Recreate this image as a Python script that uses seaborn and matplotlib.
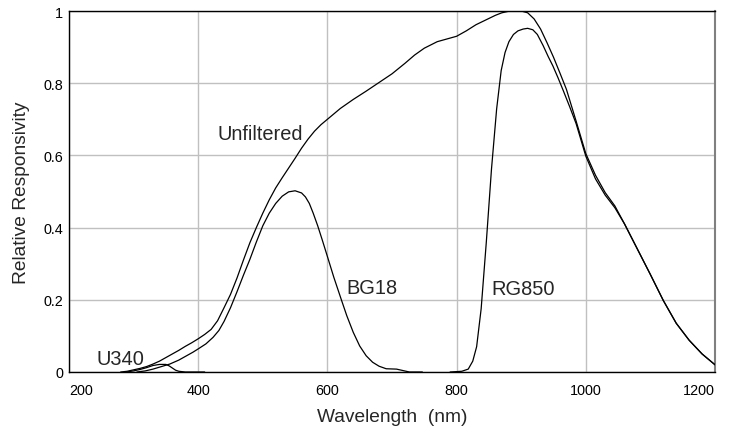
import pandas as pd
import seaborn as sns
import matplotlib.pyplot as plt

# relative responsivity curves
unf_wl = [280, 290, 300, 310, 320, 330, 340, 350, 360, 370, 380, 390, 400, 410, 420,
          430, 440, 450, 460, 470, 480, 490, 500, 510, 520, 530, 540, 550, 560, 570,
          580, 590, 600, 620, 640, 660, 680, 700, 720, 735, 750, 770, 790, 800, 815,
          830, 845, 860, 870, 880, 890, 900, 910, 920, 930, 940, 950, 960, 970, 985,
          1000, 1015, 1030, 1045, 1060, 1080, 1100, 1120, 1140, 1160, 1180, 1200]
unf_val = [0, 0.002, 0.006, 0.01, 0.015, 0.022, 0.03, 0.04, 0.05, 0.06, 0.071, 0.081,
           0.092, 0.104, 0.118, 0.142, 0.178, 0.215, 0.26, 0.31, 0.358, 0.40, 0.44,
           0.477, 0.51, 0.538, 0.565, 0.592, 0.62, 0.645, 0.667, 0.685, 0.70, 0.73,
           0.755, 0.778, 0.802, 0.826, 0.855, 0.878, 0.897, 0.915, 0.925, 0.93, 0.945,
           0.962, 0.975, 0.988, 0.995, 0.999, 1.0, 1.0, 0.995, 0.978, 0.95, 0.912,
           0.872, 0.828, 0.783, 0.695, 0.605, 0.545, 0.497, 0.46, 0.41, 0.34, 0.27,
           0.198, 0.135, 0.088, 0.05, 0.02]

bg18_wl = [305, 318, 330, 343, 356, 370, 382, 392, 400, 412, 423, 432, 440, 450, 460,
           470, 480, 490, 500, 510, 520, 530, 540, 550, 560, 566, 572, 578, 585, 592,
           600, 610, 622, 630, 640, 650, 660, 670, 680, 691, 707, 717, 727, 747]
bg18_val = [0, 0.003, 0.008, 0.015, 0.022, 0.033, 0.045, 0.055, 0.064, 0.078, 0.096,
            0.115, 0.14, 0.178, 0.222, 0.268, 0.312, 0.36, 0.405, 0.44, 0.467, 0.487,
            0.499, 0.502, 0.496, 0.485, 0.467, 0.44, 0.405, 0.366, 0.32, 0.262, 0.198,
            0.156, 0.11, 0.072, 0.045, 0.027, 0.016, 0.009, 0.008, 0.004, 0, 0]

rg850_wl = [790, 808, 818, 825, 831, 838, 846, 854, 862, 869, 875, 881, 888, 895, 903,
            910, 918, 925, 934, 942, 949, 957, 965, 975, 985, 1000, 1015, 1030, 1045,
            1060, 1080, 1100, 1120, 1140, 1160, 1180, 1200]
rg850_val = [0, 0.002, 0.008, 0.03, 0.07, 0.175, 0.36, 0.562, 0.729, 0.835, 0.885,
             0.915, 0.935, 0.945, 0.95, 0.952, 0.948, 0.935, 0.904, 0.873, 0.848, 0.815,
             0.78, 0.735, 0.688, 0.598, 0.535, 0.49, 0.455, 0.41, 0.34, 0.27, 0.198,
             0.135, 0.088, 0.05, 0.02]

u340_wl = [289, 300, 310, 320, 330, 340, 350, 355, 360, 365, 370, 380, 410]
u340_val = [0, 0.003, 0.007, 0.012, 0.018, 0.021, 0.021, 0.017, 0.011, 0.005, 0.002,
            0, 0]

x_ticks = [200, 400, 600, 800, 1000, 1200]
y_ticks = [0, 0.2, 0.4, 0.6, 0.8, 1.0]
y_tick_labels = ["0", "0.2", "0.4", "0.6", "0.8", "1"]

curves = {
    "Unfiltered": (unf_wl, unf_val),
    "BG18": (bg18_wl, bg18_val),
    "RG850": (rg850_wl, rg850_val),
    "U340": (u340_wl, u340_val),
}
df = pd.concat(
    [pd.DataFrame({"wavelength": w, "response": v, "filter": name})
     for name, (w, v) in curves.items()],
    ignore_index=True,
)

sns.set_style("white")
plt.rcParams["font.family"] = ["Liberation Sans", "DejaVu Sans"]

fig = plt.figure(figsize=(7.35, 4.35), dpi=100)
ax = fig.add_axes([69 / 735, 62 / 435, 646 / 735, 361 / 435])

sns.lineplot(
    data=df, x="wavelength", y="response", hue="filter",
    palette={k: "black" for k in curves}, legend=False,
    estimator=None, sort=False, lw=0.9, ax=ax, zorder=3,
)

ax.set_xlim(200, 1200)
ax.set_ylim(0, 1)
ax.set_xticks(x_ticks)
ax.set_yticks(y_ticks)
ax.set_yticklabels(y_tick_labels)
ax.grid(True, color="#c0c0c0", lw=1.0, zorder=0)
ax.tick_params(length=0, labelsize=10.4, colors="black")
ax.tick_params(axis="x", pad=8)
ax.tick_params(axis="y", pad=4)
xlabels = ax.get_xticklabels()
xlabels[0].set_ha("left")
xlabels[-1].set_ha("right")

for side in ["left", "bottom", "top"]:
    ax.spines[side].set_color("black")
    ax.spines[side].set_linewidth(1.0)
ax.spines["right"].set_color("#808080")
ax.spines["right"].set_linewidth(1.5)

ax.set_xlabel("Wavelength  (nm)", fontsize=13.8)
ax.set_ylabel("Relative Responsivity", fontsize=13.8)
ax.xaxis.set_label_coords(0.5, -0.1)
ax.yaxis.set_label_coords(-0.06, 0.5)

ax.text(430, 0.645, "Unfiltered", fontsize=14.4, va="baseline")
ax.text(629, 0.219, "BG18", fontsize=14.4, va="baseline")
ax.text(854, 0.216, "RG850", fontsize=14.4, va="baseline")
ax.text(243, 0.022, "U340", fontsize=14.4, va="baseline")

plt.savefig("out.png", dpi=100)
